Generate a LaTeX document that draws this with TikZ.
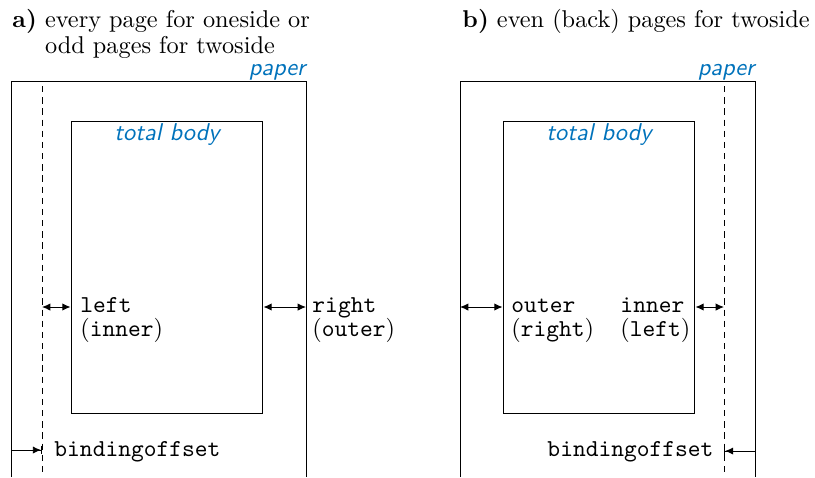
\documentclass[tikz,border=0pt]{standalone}
\usetikzlibrary{arrows.meta}
\definecolor{keyblue}{RGB}{0,114,187}
\newcommand{\twoline}[3][-2pt]{\begin{tabular}[t]{@{}l@{}}#2\\[#1]#3\end{tabular}}
\newcommand{\inparen}[1]{\textrm{(}#1\textrm{)}}

\begin{document}
\begin{tikzpicture}[x=0.01446cm,y=-0.01446cm,
    bodybox/.style={draw,inner sep=0pt,minimum width=2.776cm,minimum height=4.237cm},
    areaname/.style={font=\sffamily\itshape,text=keyblue,inner sep=0pt},
    optname/.style={font=\ttfamily,inner sep=0pt,anchor=base west},
    headline/.style={inner sep=0pt,anchor=base west},
    bindline/.style={dash pattern=on 2.6pt off 2pt},
    dist/.style={{Latex[length=3.4pt,width=3pt]}-{Latex[length=3.4pt,width=3pt]}},
    offset/.style={-{Latex[length=3.4pt,width=3pt]Bar[width=3.5pt]}}]
  \useasboundingbox (0,0) rectangle (815,477);

  % a) every page for oneside / odd pages for twoside
  \node[headline] (headA) at (12,27) {\textbf{a)} \twoline[-1.3pt]{every page for oneside or}{odd pages for twoside}};
  \coordinate (paperAbl) at (11,477);
  \coordinate (paperAtl) at (11,81);
  \coordinate (paperAtr) at (306,81);
  \coordinate (paperAbr) at (306,477);
  \draw (paperAbl) -- (paperAtl) -- (paperAtr) -- (paperAbr);
  \node[areaname,anchor=base east] (paperA) at (306,75) {paper};
  \coordinate (bindAtop) at (42,86);
  \coordinate (bindAbot) at (42,477);
  \draw[bindline] (bindAtop) -- (bindAbot);
  \node[bodybox] (bodyA) at (167,267.5) {};
  \node[areaname,anchor=north,inner sep=1pt] (totalA) at (bodyA.north) {total body};
  \coordinate (innerA) at (42,307);
  \coordinate (outerA) at (306,307);
  \draw[dist] (innerA) -- (bodyA.west |- innerA);
  \draw[dist] (bodyA.east |- outerA) -- (outerA);
  \node[optname] (leftA) at (80,312) {\twoline{left}{\inparen{inner}}};
  \node[optname] (rightA) at (312,312) {\twoline{right}{\inparen{outer}}};
  \coordinate (bindAfrom) at (11,450);
  \coordinate (bindAto) at (42,450);
  \draw[offset] (bindAfrom) -- (bindAto);
  \node[optname] (bindingA) at (54,456) {bindingoffset};

  % b) even (back) pages for twoside
  \node[headline] (headB) at (462,27) {\textbf{b)} even (back) pages for twoside};
  \coordinate (paperBbl) at (460,477);
  \coordinate (paperBtl) at (460,81);
  \coordinate (paperBtr) at (755,81);
  \coordinate (paperBbr) at (755,477);
  \draw (paperBbl) -- (paperBtl) -- (paperBtr) -- (paperBbr);
  \node[areaname,anchor=base east] (paperB) at (755,75) {paper};
  \coordinate (bindBtop) at (724,86);
  \coordinate (bindBbot) at (724,477);
  \draw[bindline] (bindBtop) -- (bindBbot);
  \node[bodybox] (bodyB) at (599,267.5) {};
  \node[areaname,anchor=north,inner sep=1pt] (totalB) at (bodyB.north) {total body};
  \coordinate (outerB) at (460,307);
  \coordinate (innerB) at (724,307);
  \draw[dist] (outerB) -- (bodyB.west |- outerB);
  \draw[dist] (bodyB.east |- innerB) -- (innerB);
  \node[optname] (outerBtext) at (511,312) {\twoline{outer}{\inparen{right}}};
  \node[optname] (innerBtext) at (620,312) {\twoline{inner}{\inparen{left}}};
  \coordinate (bindBfrom) at (755,451);
  \coordinate (bindBto) at (724,451);
  \draw[offset] (bindBfrom) -- (bindBto);
  \node[optname] (bindingB) at (547,456) {bindingoffset};
\end{tikzpicture}
\end{document}
